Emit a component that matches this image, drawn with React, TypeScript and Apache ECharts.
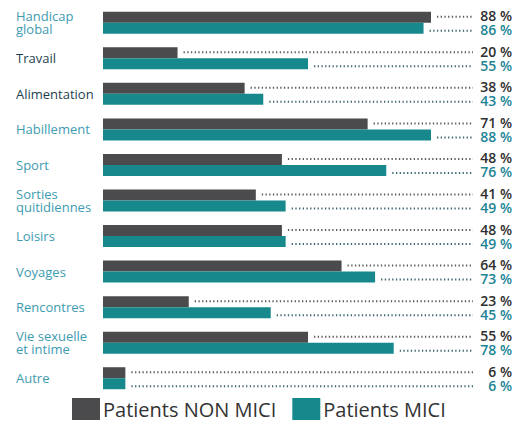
import React, { useEffect, useRef } from "react";
import * as echarts from "echarts";

const categories = [
  "Handicap\nglobal",
  "Travail",
  "Alimentation",
  "Habillement",
  "Sport",
  "Sorties\nquitidiennes",
  "Loisirs",
  "Voyages",
  "Rencontres",
  "Vie sexuelle\net intime",
  "Autre",
];
const darkCategories = ["Travail", "Alimentation"];
const nonMici = [88, 20, 38, 71, 48, 41, 48, 64, 23, 55, 6];
const mici = [86, 55, 43, 88, 76, 49, 49, 73, 45, 78, 6];
const seriesNames = ["Patients NON MICI", "Patients MICI"];

const DARK = "#4b4b4d";
const TEAL = "#17898d";
const AXIS_MAX = 110;

function labelSeries(values: number[], offset: number, textColor: string, dotColor: string) {
  return {
    type: "custom",
    silent: true,
    legendHoverLink: false,
    data: values.map((v, i) => [v, i]),
    encode: { x: 0, y: 1 },
    z: 5,
    renderItem: (params: any, api: any) => {
      const v = api.value(0);
      const idx = api.value(1);
      const p = api.coord([v, idx]);
      const e = api.coord([AXIS_MAX, idx]);
      const y = p[1] + offset;
      return {
        type: "group",
        children: [
          {
            type: "line",
            shape: { x1: p[0] + 6, y1: y + 1, x2: e[0] - 40, y2: y + 1 },
            style: { stroke: dotColor, lineWidth: 2, lineDash: [1.3, 2.4] },
          },
          {
            type: "text",
            x: e[0] - 1,
            y: y,
            style: {
              text: v + " %",
              fill: textColor,
              font: '600 14px "Open Sans", sans-serif',
              lineHeight: 13,
              align: "right",
              verticalAlign: "middle",
            },
          },
        ],
      };
    },
  };
}

export default function App() {
  const ref = useRef<HTMLDivElement>(null);
  useEffect(() => {
    if (!ref.current) return;
    const chart = echarts.init(ref.current, null, { renderer: "svg" });
    chart.setOption({
      animation: false,
      grid: { left: 103, right: 3, top: 5, bottom: 26, containLabel: false, outerBoundsMode: "none" },
      legend: {
        data: seriesNames,
        left: 67,
        top: 393,
        itemWidth: 28,
        itemHeight: 22,
        itemGap: 16,
        icon: "rect",
        textStyle: { fontSize: 20, lineHeight: 22, color: "#333333", fontFamily: "Open Sans", padding: [0, 0, 0, -2] },
      },
      xAxis: {
        type: "value",
        min: 0,
        max: AXIS_MAX,
        show: false,
      },
      yAxis: {
        type: "category",
        inverse: true,
        data: categories.map((c) => ({
          value: c,
          textStyle: {
            color: darkCategories.includes(c) ? "#1e3f4f" : "#3e9bb0",
            align: "left",
          },
        })),
        axisLine: { show: false },
        axisTick: { show: false },
        axisLabel: {
          align: "left",
          margin: 87,
          fontSize: 13,
          lineHeight: 13,
          fontFamily: "Open Sans",
        },
      },
      series: [
        {
          name: seriesNames[0],
          type: "bar",
          data: nonMici,
          barWidth: 11,
          barGap: "0%",
          itemStyle: { color: DARK },
        },
        {
          name: seriesNames[1],
          type: "bar",
          data: mici,
          barWidth: 11,
          barGap: "0%",
          itemStyle: { color: TEAL },
        },
        labelSeries(nonMici, -7, "#2f2f2f", "#5a5a5a"),
        labelSeries(mici, 7, "#1c8496", "#3d6570"),
      ],
    });
    return () => chart.dispose();
  }, []);
  return <div ref={ref} style={{ width: 516, height: 422, position: "absolute", left: 0, top: 0 }} />;
}
